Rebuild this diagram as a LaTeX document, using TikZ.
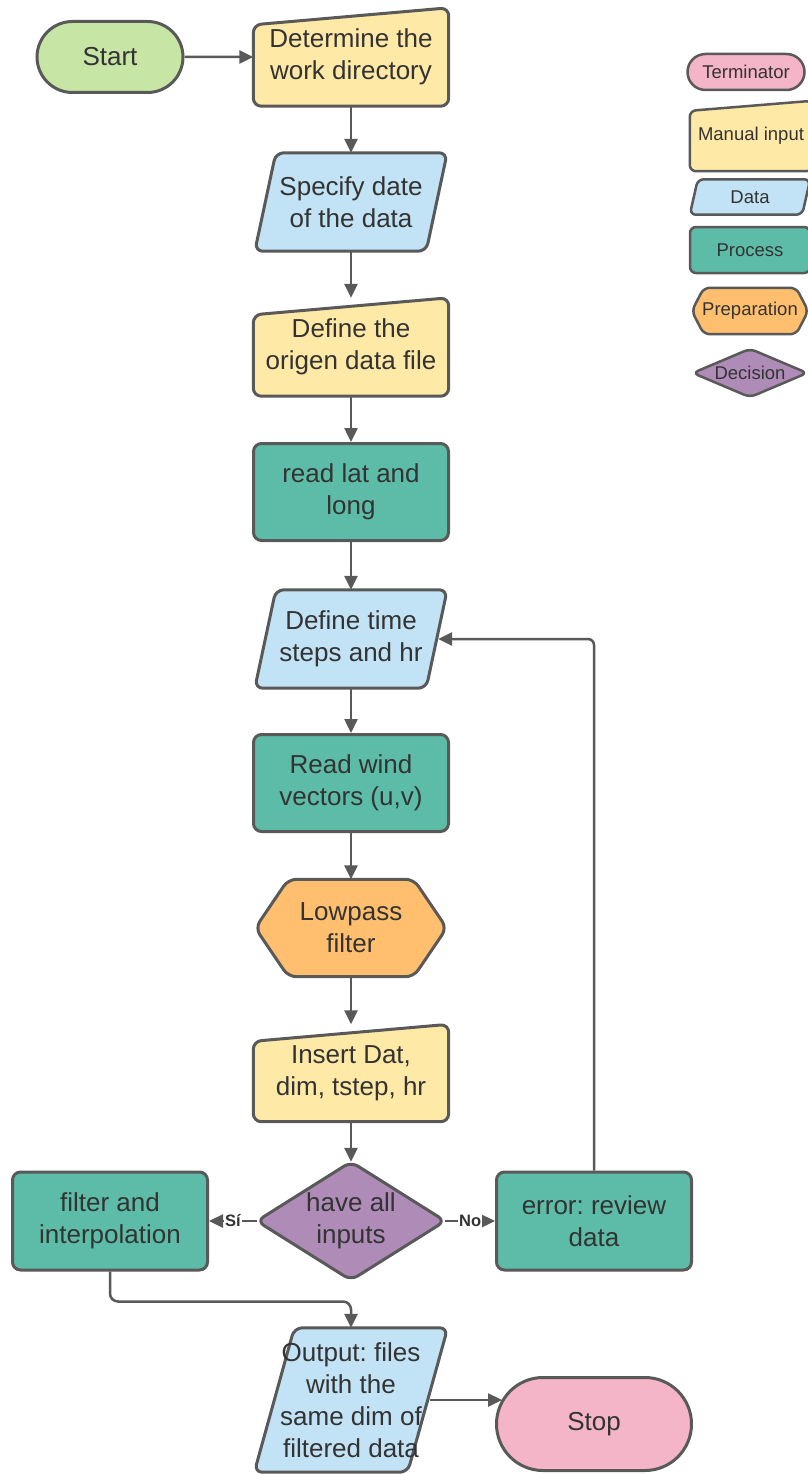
\documentclass[tikz,border=0pt]{standalone}
\usepackage{fontspec}
\setmainfont{Liberation Sans}
\frenchspacing
\usetikzlibrary{arrows.meta,shapes.misc,calc}
\pgfdeclarelayer{bg}\pgfdeclarelayer{paper}\pgfsetlayers{paper,bg,main}
\definecolor{cline}{HTML}{595959}
\definecolor{ctext}{HTML}{333333}
\definecolor{cgreen}{HTML}{C7E5A5}
\definecolor{cman}{HTML}{FFE9A6}
\definecolor{cdata}{HTML}{C2E2F5}
\definecolor{cproc}{HTML}{5DBCA7}
\definecolor{cprep}{HTML}{FFBF6E}
\definecolor{cdec}{HTML}{AF8CB7}
\definecolor{cpink}{HTML}{F3B5C7}
\newcommand\mshape[3][17pt]{\draw[#3,fill=cman] ([yshift=-#1]#2.north west) -- (#2.north east) -- (#2.south east) -- (#2.south west) -- cycle;}
\newcommand\dshape[3][21pt]{\draw[#3,fill=cdata] ([xshift=#1]#2.north west) -- (#2.north east) -- ([xshift=-#1]#2.south east) -- (#2.south west) -- cycle;}
\newcommand\hshape[3][33pt]{\draw[#3,fill=cprep] (#2.west) -- ([xshift=#1]#2.north west) -- ([xshift=-#1]#2.north east) -- (#2.east) -- ([xshift=-#1]#2.south east) -- ([xshift=#1]#2.south west) -- cycle;}
\newcommand\kshape[2]{\draw[#2,fill=cdec] (#1.west) -- (#1.north) -- (#1.east) -- (#1.south) -- cycle;}
\begin{document}
\begin{tikzpicture}[x=1pt,y=-1pt,
  txt/.style={text=ctext, align=center, inner sep=0pt, font=\fontsize{26}{32}\selectfont},
  ltxt/.style={text=ctext, align=center, inner sep=0pt, font=\fontsize{18.5}{21}\selectfont},
  box/.style={txt, minimum width=195pt, minimum height=98pt},
  lbox/.style={ltxt},
  shp/.style={draw=cline, line width=3pt, rounded corners=8pt, line join=round},
  lshp/.style={draw=cline, line width=2.5pt, rounded corners=6pt, line join=round},
  proc/.style={box, draw=cline, line width=3pt, rounded corners=8pt, fill=cproc},
  term/.style={txt, draw=cline, line width=3pt, rounded rectangle},
  conn/.style={draw=cline, line width=2.5pt, -{Triangle[length=14pt,width=13pt]}},
  lbl/.style={fill=white, inner sep=1pt, text=ctext, font=\fontsize{16.5}{18}\selectfont\bfseries}
]
\useasboundingbox (0,0) rectangle (807,1474);
\begin{pgfonlayer}{paper}
\fill[white] (0,0) rectangle (807,1474);
\end{pgfonlayer}

% main flow
\node[term, fill=cgreen, minimum width=146pt, minimum height=71pt] (start) at (110,57) {Start};
\node[box] (det) at (351,57) {Determine the\\work directory};
\node[box, minimum width=192pt] (spec) at (351,202) {Specify date\\of the data};
\node[box] (orig) at (351,347) {Define the\\origen data file};
\node[proc, minimum height=97pt] (read) at (351,492) {read lat and\\long};
\node[box, minimum width=192pt] (dts) at (351,639) {Define time\\steps and hr};
\node[proc, minimum height=97pt] (wind) at (351,783) {Read wind\\vectors (u,v)};
\node[box, minimum width=191pt, minimum height=97pt] (low) at (351,928) {Lowpass\\filter};
\node[box, minimum height=97pt] (ins) at (351,1073) {Insert Dat,\\dim, tstep, hr};
\node[txt, minimum width=188pt, minimum height=118pt] (dec) at (351,1221) {have all\\inputs};
\node[proc] (filt) at (110,1221) {filter and\\interpolation};
\node[proc] (err) at (594,1221) {error: review\\data};
\node[box, minimum width=193pt, minimum height=144pt] (out) at (351,1400) {Output: files\\with the\\same dim of\\filtered data};
\node[term, fill=cpink, minimum width=195pt, minimum height=93pt] (stop) at (594,1424) {Stop};

% legend
\node[ltxt, draw=cline, line width=2.5pt, rounded rectangle, fill=cpink, minimum width=117pt, minimum height=36pt] (lt) at (746,72) {Terminator};
\node[lbox, minimum width=122pt, minimum height=70pt] (lm) at (751,136) {Manual input};
\node[lbox, minimum width=120pt, minimum height=35pt] (ld) at (750,197) {Data};
\node[ltxt, draw=cline, line width=2.5pt, rounded corners=6pt, fill=cproc, minimum width=120pt, minimum height=46pt] (lp) at (750,250) {Process};
\node[lbox, minimum width=116pt, minimum height=46pt] (lprep) at (750,311) {Preparation};
\node[lbox, minimum width=114pt, minimum height=48pt] (ldec) at (750,373) {Decision};

\begin{pgfonlayer}{bg}
  \mshape{det}{shp}
  \dshape{spec}{shp}
  \mshape{orig}{shp}
  \dshape{dts}{shp}
  \hshape{low}{shp}
  \mshape{ins}{shp}
  \kshape{dec}{shp}
  \dshape[40pt]{out}{shp}
  \mshape[10pt]{lm}{lshp}
  \dshape[8pt]{ld}{lshp}
  \hshape[12pt]{lprep}{lshp}
  \kshape{ldec}{lshp}
\end{pgfonlayer}

% connectors
\draw[conn] (start) -- (det);
\draw[conn] (det) -- (spec);
\draw[conn] (spec) -- (orig);
\draw[conn] (orig) -- (read);
\draw[conn] (read) -- (dts);
\draw[conn] (dts) -- (wind);
\draw[conn] (wind) -- (low);
\draw[conn] (low) -- (ins);
\draw[conn] (ins) -- (dec);
\draw[conn] (dec) -- node[lbl, pos=0.5] {Sí} (filt);
\draw[conn] (dec) -- node[lbl, pos=0.5] {No} (err);
\draw[conn, rounded corners=6pt] (err.north) |- ([xshift=-9pt]dts.east);
\draw[conn, rounded corners=8pt] (filt.south) -- ++(0,30) -| (out.north);
\draw[conn] ([xshift=-18pt]out.east) -- ([xshift=7pt]out.east -| stop.west);
\end{tikzpicture}
\end{document}
